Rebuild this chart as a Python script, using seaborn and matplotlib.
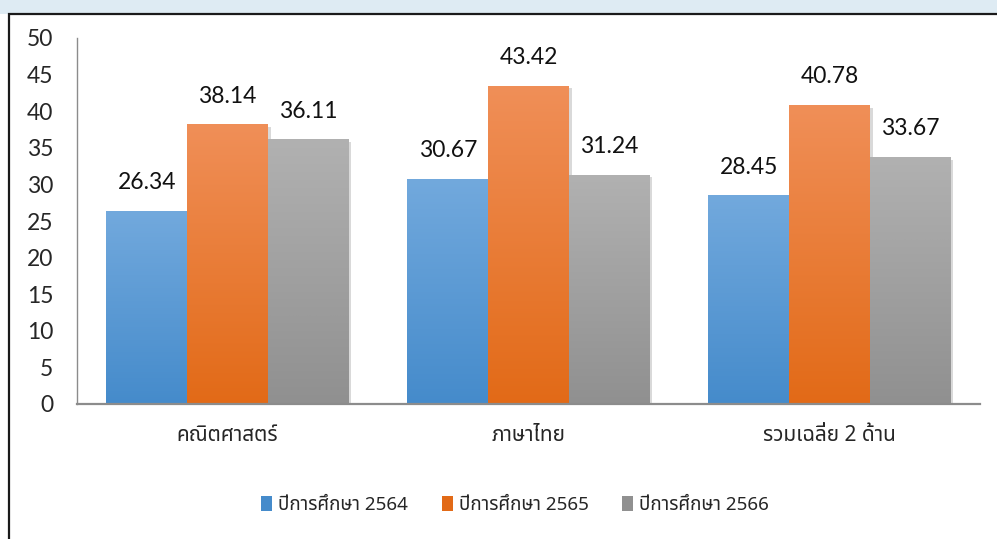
import matplotlib
matplotlib.use("Agg")
import numpy as np
import pandas as pd
import matplotlib.pyplot as plt
import matplotlib.patheffects as pe
from matplotlib.patches import Rectangle, Patch
from matplotlib.colors import LinearSegmentedColormap
import seaborn as sns

# data
subjects = ["คณิตศาสตร์", "ภาษาไทย", "รวมเฉลี่ย 2 ด้าน"]
years = ["ปีการศึกษา 2564", "ปีการศึกษา 2565", "ปีการศึกษา 2566"]
y2564 = [26.34, 30.67, 28.45]
y2565 = [38.14, 43.42, 40.78]
y2566 = [36.11, 31.24, 33.67]

# colour gradients (top, bottom) per series
tops = ["#72a9dd", "#f08f58", "#b1b1b1"]
bottoms = ["#458bcb", "#e26a17", "#909090"]

df = pd.DataFrame({
    "subject": subjects * 3,
    "year": [years[0]] * 3 + [years[1]] * 3 + [years[2]] * 3,
    "score": y2564 + y2565 + y2566,
})

sns.set_style("white")
thai = ["Noto Sans Thai", "DejaVu Sans"]
num_font = ["Lato", "DejaVu Sans"]

fig = plt.figure(figsize=(9.97, 5.39), dpi=100)
fig.patch.set_facecolor("white")

# outer frame + top band like the screenshot
fig.patches.append(Rectangle((0, 1 - 13.5 / 539), 1, 13.5 / 539, transform=fig.transFigure,
                             facecolor="#deebf3", edgecolor="none", zorder=0))
fig.patches.append(Rectangle((8.5 / 997, -0.05), 1.1, 1.05 - 14 / 539, transform=fig.transFigure,
                             facecolor="none", edgecolor="#1a1a1a", linewidth=1.6, zorder=1))

ax = fig.add_axes([77 / 997, 1 - 404 / 539, (980 - 77) / 997, (404 - 38) / 539])
sns.barplot(data=df, x="subject", y="score", hue="year", palette=bottoms,
            width=0.805, ax=ax, legend=False, saturation=1, edgecolor="none")

ax.set_ylim(0, 50)
ax.set_xlim(-0.5, 2.5)
ax.set_yticks(np.arange(0, 51, 5))
ax.set_xlabel("")
ax.set_ylabel("")
for s in ["top", "right"]:
    ax.spines[s].set_visible(False)
ax.spines["left"].set_color("#8c8c8c")
ax.spines["bottom"].set_color("#8c8c8c")
ax.spines["left"].set_linewidth(1.0)
ax.spines["bottom"].set_linewidth(1.6)
ax.tick_params(axis="y", length=0, pad=17, labelsize=16.5)
ax.tick_params(axis="x", length=0, pad=15, labelsize=15)
for t in ax.get_yticklabels():
    t.set_family(num_font)
for t in ax.get_xticklabels():
    t.set_family(thai)

# gradient fill + soft shadow on each bar, value labels on top
grad = np.linspace(0, 1, 256).reshape(-1, 1)
for idx, cont in enumerate(ax.containers):
    cmap = LinearSegmentedColormap.from_list("g%d" % idx, [bottoms[idx], tops[idx]])
    for p in cont.patches:
        x0, w, h = p.get_x(), p.get_width(), p.get_height()
        p.set_path_effects([pe.SimplePatchShadow(offset=(2, -1.5), alpha=0.15, shadow_rgbFace="black"),
                            pe.Normal()])
        ax.imshow(grad, cmap=cmap, extent=[x0, x0 + w, 0, h], origin="lower",
                  aspect="auto", zorder=p.get_zorder() + 0.1, interpolation="bicubic")
        ax.annotate(f"{h:.2f}", (x0 + w / 2, h), xytext=(0, 13), textcoords="offset points",
                    ha="center", va="bottom", fontsize=16.5, family=num_font, color="#111111")

ax.set_xlim(-0.5, 2.5)
ax.set_ylim(0, 50)

handles = [Patch(facecolor=c, edgecolor="none") for c in bottoms]
fig.legend(handles, years, loc="center", bbox_to_anchor=(515 / 997, 1 - 505 / 539), ncol=3,
           frameon=False, prop={"family": thai, "size": 13.5}, handlelength=0.6,
           handleheight=0.9, handletextpad=0.3, columnspacing=1.8)

fig.savefig("out.png", dpi=100)
